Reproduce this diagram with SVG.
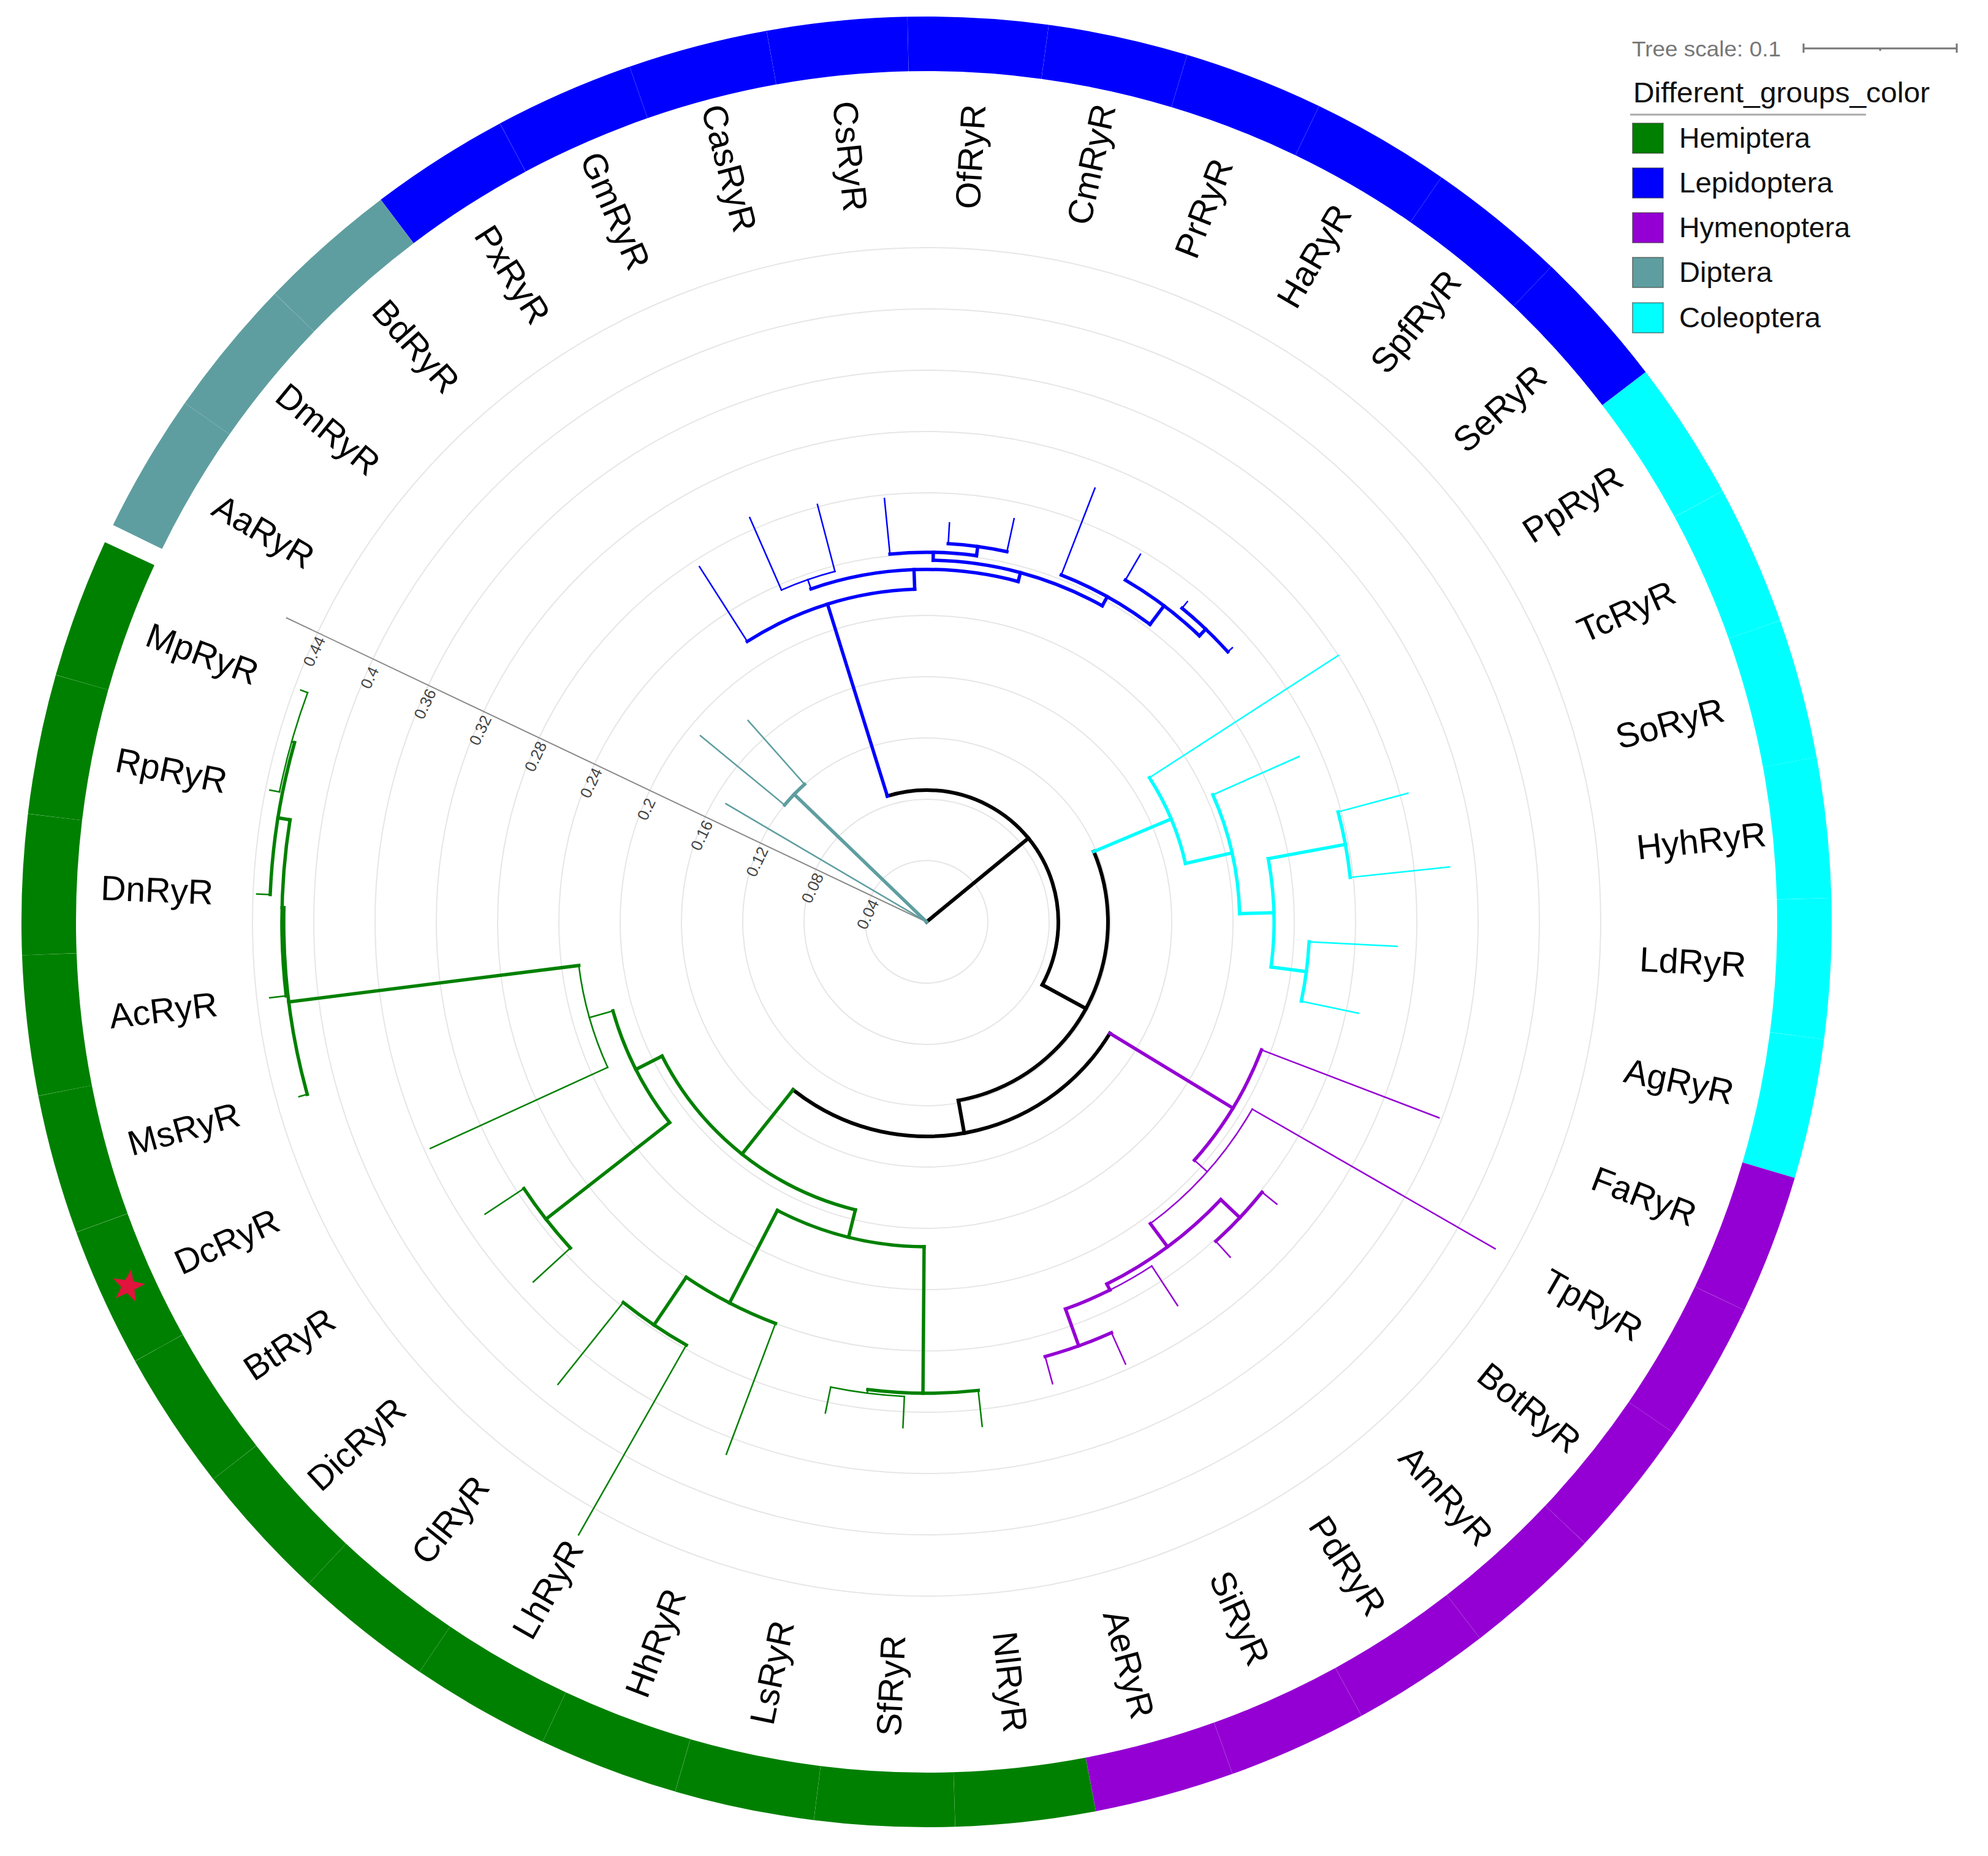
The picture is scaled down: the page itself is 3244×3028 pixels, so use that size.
<svg xmlns="http://www.w3.org/2000/svg" width="3244" height="3028" viewBox="0 0 3244 3028">
<style>
text{font-family:"Liberation Sans",Arial,sans-serif}
.grid circle{fill:none;stroke:#e6e6e6;stroke-width:2}
#connectors path,#connectors circle{fill:none;stroke-linecap:square}
.T{stroke-width:5.5}.n{stroke-width:2.5}.K{stroke:#000;stroke-width:6}
.te{stroke:#5F9EA0}.bl{stroke:#0000FF}.cy{stroke:#00FFFF}.pu{stroke:#9400D3}.gr{stroke:#008000}
.lab{font-size:57px;fill:#000;dominant-baseline:central}
.f{text-anchor:end}
.ax{font-size:26px;fill:#444;text-anchor:middle;dominant-baseline:central}
.seg{fill:none;stroke-width:89}
.leg{font-size:46px;fill:#111}
</style>
<rect width="3244" height="3028" fill="#fff"/>
<g transform="translate(1512 1504)">
<g class="grid">
<circle r="100"/><circle r="200"/><circle r="300"/><circle r="400"/><circle r="500"/><circle r="600"/><circle r="700"/><circle r="800"/><circle r="900"/><circle r="1000"/><circle r="1100"/>
</g>
<g id="scale-axis">
<path d="M0 0H1157" transform="rotate(205.4)" stroke="#8a8a8a" stroke-width="2" fill="none"/>
<g transform="rotate(205.4)">
<text class="ax" transform="translate(92 -30) rotate(90)">0.04</text>
<text class="ax" transform="translate(192 -30) rotate(90)">0.08</text>
<text class="ax" transform="translate(292 -30) rotate(90)">0.12</text>
<text class="ax" transform="translate(392 -30) rotate(90)">0.16</text>
<text class="ax" transform="translate(492 -30) rotate(90)">0.2</text>
<text class="ax" transform="translate(592 -30) rotate(90)">0.24</text>
<text class="ax" transform="translate(692 -30) rotate(90)">0.28</text>
<text class="ax" transform="translate(792 -30) rotate(90)">0.32</text>
<text class="ax" transform="translate(892 -30) rotate(90)">0.36</text>
<text class="ax" transform="translate(992 -30) rotate(90)">0.4</text>
<text class="ax" transform="translate(1092 -30) rotate(90)">0.44</text>
</g>
</g>
<g id="connectors">
<!-- backbone -->
<path class="K" d="M0 0H215" transform="rotate(320.61)"/>
<circle class="K" r="215" pathLength="360" stroke-dasharray="135.86 400" transform="rotate(252.68)"/>
<path class="K" d="M215 0H296" transform="rotate(28.54)"/>
<circle class="K" r="296" pathLength="360" stroke-dasharray="102.7 400" transform="rotate(337.19)"/>
<path class="K" d="M296 0H350" transform="rotate(79.89)"/>
<circle class="K" r="350" pathLength="360" stroke-dasharray="97.2 400" transform="rotate(31.29)"/>
<!-- Diptera -->
<path class="te n" d="M0 0H380" transform="rotate(210.49)"/>
<path class="te T" d="M0 0H300" transform="rotate(223.945)"/>
<circle class="te T" r="300" pathLength="360" stroke-dasharray="8.97 400" transform="rotate(219.46)"/>
<path class="te n" d="M300 0H478" transform="rotate(219.46)"/>
<path class="te n" d="M300 0H439" transform="rotate(228.43)"/>
<!-- Lepidoptera -->
<path class="bl T" d="M215 0H543" transform="rotate(252.68)"/>
<circle class="bl T" r="543" pathLength="360" stroke-dasharray="30.555 400" transform="rotate(237.4)"/>
<path class="bl n" d="M543 0H688" transform="rotate(237.4)"/>
<path class="bl T" d="M543 0H575" transform="rotate(267.955)"/>
<circle class="bl T" r="575" pathLength="360" stroke-dasharray="34.2 400" transform="rotate(250.855)"/>
<path class="bl n" d="M575 0H591" transform="rotate(250.855)"/>
<circle class="bl n" r="591" pathLength="360" stroke-dasharray="8.97 400" transform="rotate(246.37)"/>
<path class="bl n" d="M591 0H720" transform="rotate(246.37)"/>
<path class="bl n" d="M591 0H704" transform="rotate(255.34)"/>
<path class="bl T" d="M575 0H590" transform="rotate(285.055)"/>
<circle class="bl T" r="590" pathLength="360" stroke-dasharray="28.03 400" transform="rotate(271.04)"/>
<path class="bl T" d="M590 0H603" transform="rotate(271.04)"/>
<circle class="bl T" r="603" pathLength="360" stroke-dasharray="13.455 400" transform="rotate(264.31)"/>
<path class="bl n" d="M603 0H694" transform="rotate(264.31)"/>
<path class="bl T" d="M603 0H618" transform="rotate(277.765)"/>
<circle class="bl T" r="618" pathLength="360" stroke-dasharray="8.97 400" transform="rotate(273.28)"/>
<path class="bl n" d="M618 0H652" transform="rotate(273.28)"/>
<path class="bl n" d="M618 0H673" transform="rotate(282.25)"/>
<path class="bl T" d="M590 0H607" transform="rotate(299.07)"/>
<circle class="bl T" r="607" pathLength="360" stroke-dasharray="15.7 400" transform="rotate(291.22)"/>
<path class="bl n" d="M607 0H759" transform="rotate(291.22)"/>
<path class="bl T" d="M607 0H645" transform="rotate(306.92)"/>
<circle class="bl T" r="645" pathLength="360" stroke-dasharray="13.455 400" transform="rotate(300.19)"/>
<path class="bl n" d="M645 0H694" transform="rotate(300.19)"/>
<path class="bl T" d="M645 0H660" transform="rotate(313.645)"/>
<circle class="bl T" r="660" pathLength="360" stroke-dasharray="8.97 400" transform="rotate(309.16)"/>
<path class="bl n" d="M660 0H674" transform="rotate(309.16)"/>
<path class="bl n" d="M660 0H670" transform="rotate(318.13)"/>
<!-- Coleoptera -->
<path class="cy T" d="M296 0H433" transform="rotate(337.19)"/>
<circle class="cy T" r="433" pathLength="360" stroke-dasharray="20.18 400" transform="rotate(327.1)"/>
<path class="cy n" d="M433 0H800" transform="rotate(327.1)"/>
<path class="cy T" d="M433 0H511" transform="rotate(347.28)"/>
<circle class="cy T" r="511" pathLength="360" stroke-dasharray="22.425 400" transform="rotate(336.07)"/>
<path class="cy n" d="M511 0H665" transform="rotate(336.07)"/>
<path class="cy T" d="M511 0H567" transform="rotate(358.495)"/>
<circle class="cy T" r="567" pathLength="360" stroke-dasharray="17.94 400" transform="rotate(349.525)"/>
<path class="cy T" d="M567 0H695" transform="rotate(349.525)"/>
<circle class="cy T" r="695" pathLength="360" stroke-dasharray="8.97 400" transform="rotate(345.04)"/>
<path class="cy n" d="M695 0H813" transform="rotate(345.04)"/>
<path class="cy n" d="M695 0H858" transform="rotate(354.01)"/>
<path class="cy T" d="M567 0H625" transform="rotate(367.465)"/>
<circle class="cy T" r="625" pathLength="360" stroke-dasharray="8.97 400" transform="rotate(362.98)"/>
<path class="cy n" d="M625 0H769" transform="rotate(362.98)"/>
<path class="cy n" d="M625 0H720" transform="rotate(371.95)"/>
<!-- Hymenoptera -->
<path class="pu T" d="M350 0H585" transform="rotate(31.29)"/>
<circle class="pu T" r="585" pathLength="360" stroke-dasharray="20.745 400" transform="rotate(20.92)"/>
<path class="pu n" d="M585 0H895" transform="rotate(20.92)"/>
<path class="pu n" d="M585 0H613" transform="rotate(41.665)"/>
<circle class="pu n" r="613" pathLength="360" stroke-dasharray="23.55 400" transform="rotate(29.89)"/>
<path class="pu n" d="M613 0H1070" transform="rotate(29.89)"/>
<path class="pu T" d="M613 0H660" transform="rotate(53.44)"/>
<circle class="pu T" r="660" pathLength="360" stroke-dasharray="20.185 400" transform="rotate(43.345)"/>
<path class="pu T" d="M660 0H703" transform="rotate(43.345)"/>
<circle class="pu T" r="703" pathLength="360" stroke-dasharray="8.97 400" transform="rotate(38.86)"/>
<path class="pu n" d="M703 0H734" transform="rotate(38.86)"/>
<path class="pu n" d="M703 0H738" transform="rotate(47.83)"/>
<path class="pu T" d="M660 0H671" transform="rotate(63.53)"/>
<circle class="pu n" r="671" pathLength="360" stroke-dasharray="6.73 400" transform="rotate(56.8)"/>
<circle class="pu T" r="671" pathLength="360" stroke-dasharray="6.725 400" transform="rotate(63.53)"/>
<path class="pu n" d="M671 0H748" transform="rotate(56.8)"/>
<path class="pu T" d="M671 0H735" transform="rotate(70.255)"/>
<circle class="pu T" r="735" pathLength="360" stroke-dasharray="8.97 400" transform="rotate(65.77)"/>
<path class="pu n" d="M735 0H791" transform="rotate(65.77)"/>
<path class="pu n" d="M735 0H781" transform="rotate(74.74)"/>
<!-- Hemiptera -->
<path class="gr T" d="M350 0H484" transform="rotate(128.49)"/>
<circle class="gr T" r="484" pathLength="360" stroke-dasharray="49.195 400" transform="rotate(103.895)"/>
<path class="gr T" d="M484 0H530" transform="rotate(103.895)"/>
<circle class="gr T" r="530" pathLength="360" stroke-dasharray="26.91 400" transform="rotate(90.44)"/>
<path class="gr T" d="M530 0H769" transform="rotate(90.44)"/>
<circle class="gr T" r="769" pathLength="360" stroke-dasharray="13.455 400" transform="rotate(83.71)"/>
<path class="gr n" d="M769 0H828" transform="rotate(83.71)"/>
<path class="gr n" d="M769 0H775" transform="rotate(97.165)"/>
<circle class="gr n" r="775" pathLength="360" stroke-dasharray="8.97 400" transform="rotate(92.68)"/>
<path class="gr n" d="M775 0H826" transform="rotate(92.68)"/>
<path class="gr n" d="M775 0H818" transform="rotate(101.65)"/>
<path class="gr T" d="M530 0H700" transform="rotate(117.35)"/>
<circle class="gr T" r="700" pathLength="360" stroke-dasharray="13.455 400" transform="rotate(110.62)"/>
<path class="gr n" d="M700 0H928" transform="rotate(110.62)"/>
<path class="gr T" d="M700 0H794" transform="rotate(124.075)"/>
<circle class="gr T" r="794" pathLength="360" stroke-dasharray="8.97 400" transform="rotate(119.59)"/>
<path class="gr n" d="M794 0H1150" transform="rotate(119.59)"/>
<path class="gr n" d="M794 0H965" transform="rotate(128.56)"/>
<path class="gr T" d="M484 0H532" transform="rotate(153.09)"/>
<circle class="gr T" r="532" pathLength="360" stroke-dasharray="22.145 400" transform="rotate(142.015)"/>
<path class="gr T" d="M532 0H788" transform="rotate(142.015)"/>
<circle class="gr T" r="788" pathLength="360" stroke-dasharray="8.97 400" transform="rotate(137.53)"/>
<path class="gr n" d="M788 0H870" transform="rotate(137.53)"/>
<path class="gr n" d="M788 0H864" transform="rotate(146.5)"/>
<path class="gr n" d="M532 0H572" transform="rotate(164.16)"/>
<circle class="gr n" r="572" pathLength="360" stroke-dasharray="17.38 400" transform="rotate(155.47)"/>
<path class="gr n" d="M572 0H890" transform="rotate(155.47)"/>
<path class="gr T" d="M572 0H1049" transform="rotate(172.85)"/>
<circle class="gr T" r="1049" pathLength="360" stroke-dasharray="16.82 400" transform="rotate(164.44)"/>
<path class="gr n" d="M1049 0H1063" transform="rotate(164.44)"/>
<path class="gr T" d="M1049 0H1052" transform="rotate(181.26)"/>
<circle class="gr T" r="1052" pathLength="360" stroke-dasharray="15.7 400" transform="rotate(173.41)"/>
<path class="gr n" d="M1052 0H1079" transform="rotate(173.41)"/>
<path class="gr T" d="M1052 0H1072" transform="rotate(189.11)"/>
<circle class="gr T" r="1072" pathLength="360" stroke-dasharray="13.455 400" transform="rotate(182.38)"/>
<path class="gr n" d="M1072 0H1094" transform="rotate(182.38)"/>
<path class="gr n" d="M1072 0H1077" transform="rotate(195.835)"/>
<circle class="gr n" r="1077" pathLength="360" stroke-dasharray="8.97 400" transform="rotate(191.35)"/>
<path class="gr n" d="M1077 0H1093" transform="rotate(191.35)"/>
<path class="gr n" d="M1077 0H1089" transform="rotate(200.32)"/>
</g>
<g id="leaves">
<g id="leaf-AaRyR"><circle class="seg" r="1432.5" stroke="#5F9EA0" pathLength="360" stroke-dasharray="8.97 400" transform="rotate(206)"/><text class="lab f" transform="rotate(30.49) translate(-1165 0)">AaRyR</text></g>
<g id="leaf-DmRyR"><circle class="seg" r="1432.5" stroke="#5F9EA0" pathLength="360" stroke-dasharray="8.97 400" transform="rotate(214.97)"/><text class="lab f" transform="rotate(39.46) translate(-1165 0)">DmRyR</text></g>
<g id="leaf-BdRyR"><circle class="seg" r="1432.5" stroke="#5F9EA0" pathLength="360" stroke-dasharray="8.97 400" transform="rotate(223.94)"/><text class="lab f" transform="rotate(48.43) translate(-1165 0)">BdRyR</text></g>
<g id="leaf-PxRyR"><circle class="seg" r="1432.5" stroke="#0000FF" pathLength="360" stroke-dasharray="8.97 400" transform="rotate(232.91)"/><text class="lab f" transform="rotate(57.4) translate(-1165 0)">PxRyR</text></g>
<g id="leaf-GmRyR"><circle class="seg" r="1432.5" stroke="#0000FF" pathLength="360" stroke-dasharray="8.97 400" transform="rotate(241.88)"/><text class="lab f" transform="rotate(66.37) translate(-1165 0)">GmRyR</text></g>
<g id="leaf-CasRyR"><circle class="seg" r="1432.5" stroke="#0000FF" pathLength="360" stroke-dasharray="8.97 400" transform="rotate(250.85)"/><text class="lab f" transform="rotate(75.34) translate(-1165 0)">CasRyR</text></g>
<g id="leaf-CsRyR"><circle class="seg" r="1432.5" stroke="#0000FF" pathLength="360" stroke-dasharray="8.97 400" transform="rotate(259.82)"/><text class="lab f" transform="rotate(84.31) translate(-1165 0)">CsRyR</text></g>
<g id="leaf-OfRyR"><circle class="seg" r="1432.5" stroke="#0000FF" pathLength="360" stroke-dasharray="8.97 400" transform="rotate(268.79)"/><text class="lab" transform="rotate(273.28) translate(1165 0)">OfRyR</text></g>
<g id="leaf-CmRyR"><circle class="seg" r="1432.5" stroke="#0000FF" pathLength="360" stroke-dasharray="8.97 400" transform="rotate(277.76)"/><text class="lab" transform="rotate(282.25) translate(1165 0)">CmRyR</text></g>
<g id="leaf-PrRyR"><circle class="seg" r="1432.5" stroke="#0000FF" pathLength="360" stroke-dasharray="8.97 400" transform="rotate(286.73)"/><text class="lab" transform="rotate(291.22) translate(1165 0)">PrRyR</text></g>
<g id="leaf-HaRyR"><circle class="seg" r="1432.5" stroke="#0000FF" pathLength="360" stroke-dasharray="8.97 400" transform="rotate(295.7)"/><text class="lab" transform="rotate(300.19) translate(1165 0)">HaRyR</text></g>
<g id="leaf-SpfRyR"><circle class="seg" r="1432.5" stroke="#0000FF" pathLength="360" stroke-dasharray="8.97 400" transform="rotate(304.67)"/><text class="lab" transform="rotate(309.16) translate(1165 0)">SpfRyR</text></g>
<g id="leaf-SeRyR"><circle class="seg" r="1432.5" stroke="#0000FF" pathLength="360" stroke-dasharray="8.97 400" transform="rotate(313.64)"/><text class="lab" transform="rotate(318.13) translate(1165 0)">SeRyR</text></g>
<g id="leaf-PpRyR"><circle class="seg" r="1432.5" stroke="#00FFFF" pathLength="360" stroke-dasharray="8.97 400" transform="rotate(322.61)"/><text class="lab" transform="rotate(327.1) translate(1165 0)">PpRyR</text></g>
<g id="leaf-TcRyR"><circle class="seg" r="1432.5" stroke="#00FFFF" pathLength="360" stroke-dasharray="8.97 400" transform="rotate(331.58)"/><text class="lab" transform="rotate(336.07) translate(1165 0)">TcRyR</text></g>
<g id="leaf-SoRyR"><circle class="seg" r="1432.5" stroke="#00FFFF" pathLength="360" stroke-dasharray="8.97 400" transform="rotate(340.55)"/><text class="lab" transform="rotate(345.04) translate(1165 0)">SoRyR</text></g>
<g id="leaf-HyhRyR"><circle class="seg" r="1432.5" stroke="#00FFFF" pathLength="360" stroke-dasharray="8.97 400" transform="rotate(349.52)"/><text class="lab" transform="rotate(354.01) translate(1165 0)">HyhRyR</text></g>
<g id="leaf-LdRyR"><circle class="seg" r="1432.5" stroke="#00FFFF" pathLength="360" stroke-dasharray="8.97 400" transform="rotate(358.49)"/><text class="lab" transform="rotate(2.98) translate(1165 0)">LdRyR</text></g>
<g id="leaf-AgRyR"><circle class="seg" r="1432.5" stroke="#00FFFF" pathLength="360" stroke-dasharray="8.97 400" transform="rotate(7.46)"/><text class="lab" transform="rotate(11.95) translate(1165 0)">AgRyR</text></g>
<g id="leaf-FaRyR"><circle class="seg" r="1432.5" stroke="#9400D3" pathLength="360" stroke-dasharray="8.97 400" transform="rotate(16.43)"/><text class="lab" transform="rotate(20.92) translate(1165 0)">FaRyR</text></g>
<g id="leaf-TpRyR"><circle class="seg" r="1432.5" stroke="#9400D3" pathLength="360" stroke-dasharray="8.97 400" transform="rotate(25.4)"/><text class="lab" transform="rotate(29.89) translate(1165 0)">TpRyR</text></g>
<g id="leaf-BotRyR"><circle class="seg" r="1432.5" stroke="#9400D3" pathLength="360" stroke-dasharray="8.97 400" transform="rotate(34.37)"/><text class="lab" transform="rotate(38.86) translate(1165 0)">BotRyR</text></g>
<g id="leaf-AmRyR"><circle class="seg" r="1432.5" stroke="#9400D3" pathLength="360" stroke-dasharray="8.97 400" transform="rotate(43.34)"/><text class="lab" transform="rotate(47.83) translate(1165 0)">AmRyR</text></g>
<g id="leaf-PdRyR"><circle class="seg" r="1432.5" stroke="#9400D3" pathLength="360" stroke-dasharray="8.97 400" transform="rotate(52.31)"/><text class="lab" transform="rotate(56.8) translate(1165 0)">PdRyR</text></g>
<g id="leaf-SiRyR"><circle class="seg" r="1432.5" stroke="#9400D3" pathLength="360" stroke-dasharray="8.97 400" transform="rotate(61.28)"/><text class="lab" transform="rotate(65.77) translate(1165 0)">SiRyR</text></g>
<g id="leaf-AeRyR"><circle class="seg" r="1432.5" stroke="#9400D3" pathLength="360" stroke-dasharray="8.97 400" transform="rotate(70.25)"/><text class="lab" transform="rotate(74.74) translate(1165 0)">AeRyR</text></g>
<g id="leaf-NlRyR"><circle class="seg" r="1432.5" stroke="#008000" pathLength="360" stroke-dasharray="8.97 400" transform="rotate(79.22)"/><text class="lab" transform="rotate(83.71) translate(1165 0)">NlRyR</text></g>
<g id="leaf-SfRyR"><circle class="seg" r="1432.5" stroke="#008000" pathLength="360" stroke-dasharray="8.97 400" transform="rotate(88.19)"/><text class="lab f" transform="rotate(-87.32) translate(-1165 0)">SfRyR</text></g>
<g id="leaf-LsRyR"><circle class="seg" r="1432.5" stroke="#008000" pathLength="360" stroke-dasharray="8.97 400" transform="rotate(97.16)"/><text class="lab f" transform="rotate(-78.35) translate(-1165 0)">LsRyR</text></g>
<g id="leaf-HhRyR"><circle class="seg" r="1432.5" stroke="#008000" pathLength="360" stroke-dasharray="8.97 400" transform="rotate(106.13)"/><text class="lab f" transform="rotate(-69.38) translate(-1165 0)">HhRyR</text></g>
<g id="leaf-LhRyR"><circle class="seg" r="1432.5" stroke="#008000" pathLength="360" stroke-dasharray="8.97 400" transform="rotate(115.1)"/><text class="lab f" transform="rotate(-60.41) translate(-1165 0)">LhRyR</text></g>
<g id="leaf-ClRyR"><circle class="seg" r="1432.5" stroke="#008000" pathLength="360" stroke-dasharray="8.97 400" transform="rotate(124.07)"/><text class="lab f" transform="rotate(-51.44) translate(-1165 0)">ClRyR</text></g>
<g id="leaf-DicRyR"><circle class="seg" r="1432.5" stroke="#008000" pathLength="360" stroke-dasharray="8.97 400" transform="rotate(133.04)"/><text class="lab f" transform="rotate(-42.47) translate(-1165 0)">DicRyR</text></g>
<g id="leaf-BtRyR"><circle class="seg" r="1432.5" stroke="#008000" pathLength="360" stroke-dasharray="8.97 400" transform="rotate(142.01)"/><text class="lab f" transform="rotate(-33.5) translate(-1165 0)">BtRyR</text></g>
<g id="leaf-DcRyR"><circle class="seg" r="1432.5" stroke="#008000" pathLength="360" stroke-dasharray="8.97 400" transform="rotate(150.98)"/><text class="lab f" transform="rotate(-24.53) translate(-1165 0)">DcRyR</text><polygon points="0,-28 6.76,-9.3 26.63,-8.65 10.94,3.55 16.46,22.65 0,11.5 -16.46,22.65 -10.94,3.55 -26.63,-8.65 -6.76,-9.3" fill="#E0143C" transform="rotate(155.47) translate(1432 0) rotate(-145.47)"/></g>
<g id="leaf-MsRyR"><circle class="seg" r="1432.5" stroke="#008000" pathLength="360" stroke-dasharray="8.97 400" transform="rotate(159.95)"/><text class="lab f" transform="rotate(-15.56) translate(-1165 0)">MsRyR</text></g>
<g id="leaf-AcRyR"><circle class="seg" r="1432.5" stroke="#008000" pathLength="360" stroke-dasharray="8.97 400" transform="rotate(168.92)"/><text class="lab f" transform="rotate(-6.59) translate(-1165 0)">AcRyR</text></g>
<g id="leaf-DnRyR"><circle class="seg" r="1432.5" stroke="#008000" pathLength="360" stroke-dasharray="8.97 400" transform="rotate(177.89)"/><text class="lab f" transform="rotate(2.38) translate(-1165 0)">DnRyR</text></g>
<g id="leaf-RpRyR"><circle class="seg" r="1432.5" stroke="#008000" pathLength="360" stroke-dasharray="8.97 400" transform="rotate(186.86)"/><text class="lab f" transform="rotate(11.35) translate(-1165 0)">RpRyR</text></g>
<g id="leaf-MpRyR"><circle class="seg" r="1432.5" stroke="#008000" pathLength="360" stroke-dasharray="8.97 400" transform="rotate(195.83)"/><text class="lab f" transform="rotate(20.32) translate(-1165 0)">MpRyR</text></g>
</g>
</g>
<g id="legend">
<text x="2663" y="92" font-size="35" fill="#777" textLength="243" lengthAdjust="spacingAndGlyphs">Tree scale: 0.1</text>
<path d="M2943 79H3193M2943 71V86M3193 71V86M3068 79V83" stroke="#777" stroke-width="3" fill="none"/>
<text x="2665" y="167" font-size="47" fill="#111" textLength="484" lengthAdjust="spacingAndGlyphs">Different_groups_color</text>
<path d="M2660 187H3045" stroke="#aaa" stroke-width="3" fill="none"/>
<g id="legend-hemiptera"><rect x="2664" y="201" width="50" height="49" fill="#008000" stroke="#3a3a3a" stroke-opacity="0.5" stroke-width="2"/><text class="leg" x="2740" y="241" textLength="214" lengthAdjust="spacingAndGlyphs">Hemiptera</text></g>
<g id="legend-lepidoptera"><rect x="2664" y="274" width="50" height="49" fill="#0000FF" stroke="#3a3a3a" stroke-opacity="0.5" stroke-width="2"/><text class="leg" x="2740" y="314" textLength="251" lengthAdjust="spacingAndGlyphs">Lepidoptera</text></g>
<g id="legend-hymenoptera"><rect x="2664" y="347" width="50" height="49" fill="#9400D3" stroke="#3a3a3a" stroke-opacity="0.5" stroke-width="2"/><text class="leg" x="2740" y="387" textLength="279" lengthAdjust="spacingAndGlyphs">Hymenoptera</text></g>
<g id="legend-diptera"><rect x="2664" y="420" width="50" height="49" fill="#5F9EA0" stroke="#3a3a3a" stroke-opacity="0.5" stroke-width="2"/><text class="leg" x="2740" y="460" textLength="152" lengthAdjust="spacingAndGlyphs">Diptera</text></g>
<g id="legend-coleoptera"><rect x="2664" y="494" width="50" height="49" fill="#00FFFF" stroke="#3a3a3a" stroke-opacity="0.5" stroke-width="2"/><text class="leg" x="2740" y="534" textLength="231" lengthAdjust="spacingAndGlyphs">Coleoptera</text></g>
</g>
</svg>
